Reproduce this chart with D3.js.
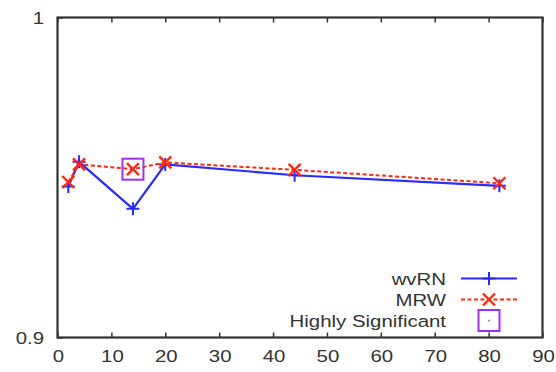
<!DOCTYPE html>
<html>
<head>
<meta charset="utf-8">
<script src="https://cdn.jsdelivr.net/npm/d3@7"></script>
<style>
  html, body { margin: 0; padding: 0; background: #fff; }
  svg { display: block; }
  text { font-family: "Liberation Sans", Arial, Helvetica, sans-serif; fill: #333; }
</style>
</head>
<body>
<svg id="chart" width="556" height="372"></svg>
<script>
// Number of labelled nodes vs. accuracy for the two methods
const xValues    = [2, 4, 14, 20, 44, 82];
const wvRN       = [0.9472, 0.9549, 0.9402, 0.9541, 0.9507, 0.9474];
const MRW        = [0.9486, 0.9541, 0.9526, 0.9547, 0.9524, 0.9482];
const significantX = [14];           // points where MRW is highly significant
const xTicks     = [0, 10, 20, 30, 40, 50, 60, 70, 80, 90];
const yTicks     = [0.9, 1];
const yTickLabels = ["0.9", "1"];
const legendLabels = ["wvRN", "MRW", "Highly Significant"];

const BLUE = "#2a2aff", RED = "#ff2a10", PURPLE = "#a030f0", FRAME = "#333";
const SX = 1.2;  // horizontal text stretch
const FS = 17;

const svg = d3.select("#chart");
const x = d3.scaleLinear().domain([0, 90]).range([57.5, 542.5]);
const y = d3.scaleLinear().domain([0.9, 1]).range([337.5, 17.5]);

function stretchedText(g, px, py, str, anchor) {
  return g.append("text")
    .attr("transform", `translate(${px},${py}) scale(${SX},1)`)
    .attr("text-anchor", anchor)
    .style("font-size", FS + "px")
    .text(str);
}

// Axes: inward ticks only, labels drawn separately
const axisBottomG = svg.append("g").attr("transform", `translate(0,${y.range()[0]})`)
  .call(d3.axisBottom(x).tickValues(xTicks).tickSize(-5).tickFormat(""));
const axisTopG = svg.append("g").attr("transform", `translate(0,${y.range()[1]})`)
  .call(d3.axisTop(x).tickValues(xTicks).tickSize(-5).tickFormat(""));
const axisLeftG = svg.append("g").attr("transform", `translate(${x.range()[0]},0)`)
  .call(d3.axisLeft(y).tickValues(yTicks).tickSize(-5).tickFormat(""));
[axisBottomG, axisTopG, axisLeftG].forEach(g => {
  g.select(".domain").remove();
  g.selectAll(".tick line").attr("stroke", FRAME).attr("stroke-width", 1.5);
});

// Tick labels
const labels = svg.append("g");
xTicks.forEach(v => stretchedText(labels, x(v) + 1, 362, String(v), "middle"));
yTicks.forEach((v, i) => stretchedText(labels, 44, y(v) + 6, yTickLabels[i], "end"));

// Frame
svg.append("rect")
  .attr("x", x.range()[0]).attr("y", y.range()[1])
  .attr("width", x.range()[1] - x.range()[0])
  .attr("height", y.range()[0] - y.range()[1])
  .attr("fill", "none").attr("stroke", FRAME).attr("stroke-width", 2.2);

const line = d3.line().x(d => x(d[0])).y(d => y(d[1]));
const blueData = xValues.map((v, i) => [v, wvRN[i]]);
const redData  = xValues.map((v, i) => [v, MRW[i]]);

function plus(g, cx, cy, r, color) {
  g.append("path").attr("d", `M${cx - r},${cy}H${cx + r}M${cx},${cy - r}V${cy + r}`)
    .attr("stroke", color).attr("stroke-width", 2).attr("fill", "none");
}
function cross(g, cx, cy, r, color) {
  g.append("path").attr("d", `M${cx - r},${cy - r}L${cx + r},${cy + r}M${cx - r},${cy + r}L${cx + r},${cy - r}`)
    .attr("stroke", color).attr("stroke-width", 2.4).attr("fill", "none");
}
function square(g, cx, cy, r, color) {
  g.append("rect").attr("x", cx - r).attr("y", cy - r).attr("width", 2 * r).attr("height", 2 * r)
    .attr("fill", "none").attr("stroke", color).attr("stroke-width", 2);
  g.append("rect").attr("x", cx - 0.75).attr("y", cy - 0.75).attr("width", 1.5).attr("height", 1.5)
    .attr("fill", color);
}

const plot = svg.append("g");
plot.append("path").datum(blueData).attr("d", line)
  .attr("fill", "none").attr("stroke", BLUE).attr("stroke-width", 2.2);
blueData.forEach(d => plus(plot, x(d[0]), y(d[1]), 6.5, BLUE));

plot.append("path").datum(redData).attr("d", line)
  .attr("fill", "none").attr("stroke", RED).attr("stroke-width", 2)
  .attr("stroke-dasharray", "4,2.5");
redData.forEach(d => cross(plot, x(d[0]), y(d[1]), 6, RED));

significantX.forEach(sx => {
  const i = xValues.indexOf(sx);
  square(plot, x(sx), y(MRW[i]), 10.5, PURPLE);
});

// Legend
const lg = svg.append("g");
const rowY = [278.5, 299.5, 320.5];
const textX = 446, sampleX0 = 461, sampleX1 = 517, markX = 489;
legendLabels.forEach((t, i) => stretchedText(lg, textX, rowY[i] + 6, t, "end"));
lg.append("line").attr("x1", sampleX0).attr("x2", sampleX1).attr("y1", rowY[0]).attr("y2", rowY[0])
  .attr("stroke", BLUE).attr("stroke-width", 2.2);
plus(lg, markX, rowY[0], 6.5, BLUE);
lg.append("line").attr("x1", sampleX0).attr("x2", sampleX1).attr("y1", rowY[1]).attr("y2", rowY[1])
  .attr("stroke", RED).attr("stroke-width", 2).attr("stroke-dasharray", "4,2.5");
cross(lg, markX, rowY[1], 6, RED);
square(lg, markX, rowY[2], 10.5, PURPLE);
</script>
</body>
</html>
